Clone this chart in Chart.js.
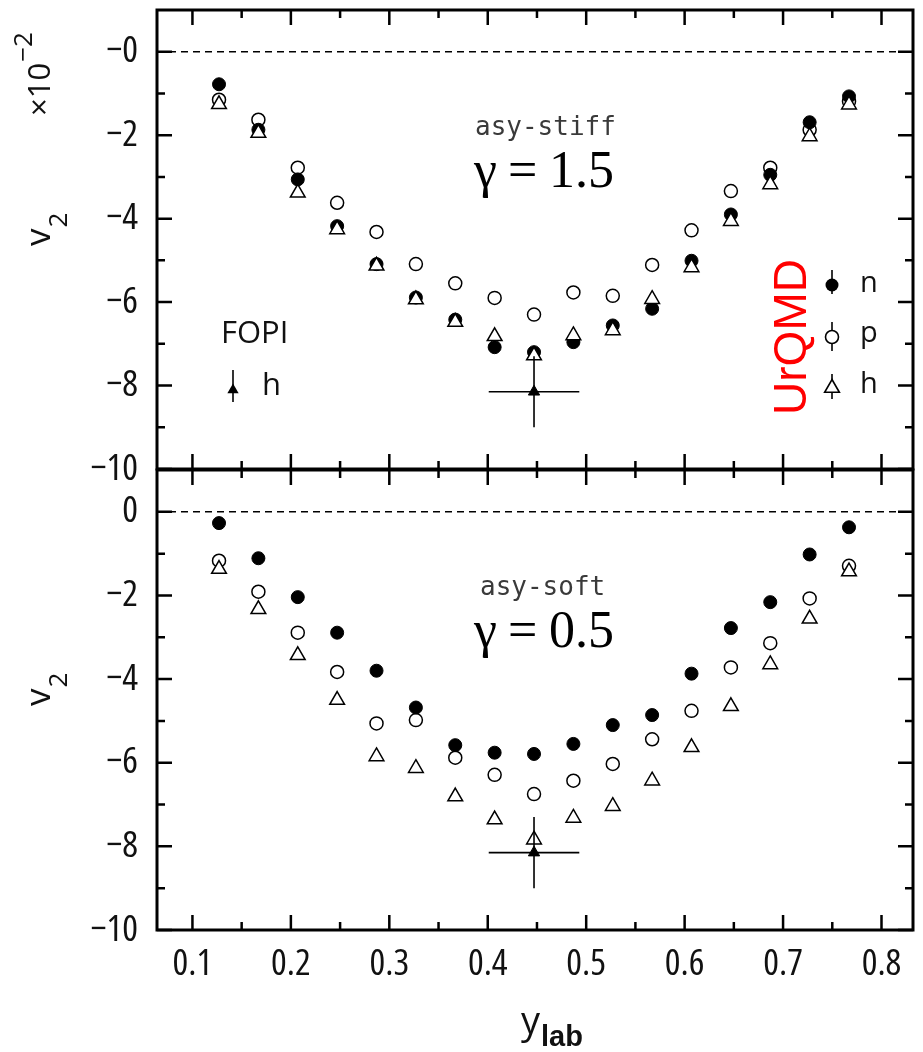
<!DOCTYPE html>
<html lang="en">
<head>
<meta charset="UTF-8">
<title>v2 vs ylab - UrQMD asy-stiff / asy-soft</title>
<script src="https://cdn.jsdelivr.net/npm/chart.js@4"></script>
<style>
  html, body { margin: 0; padding: 0; background: #fff; }
  #wrap { position: relative; width: 923px; height: 1052px; }
  canvas { position: absolute; left: 0; }
  #top { top: 0; }
  #bottom { top: 460px; }
</style>
</head>
<body>
<div id="wrap">
  <canvas id="top" width="923" height="492"></canvas>
  <canvas id="bottom" width="923" height="592"></canvas>
</div>
<script>
// rapidity bins (y_lab)
const yLab = [0.127, 0.167, 0.207, 0.247, 0.287, 0.327, 0.367, 0.407, 0.447,
              0.487, 0.527, 0.567, 0.607, 0.647, 0.687, 0.727, 0.767];

// asy-stiff, gamma = 1.5  (v2 in units of 1e-2)
const stiffN = [-0.78, -1.87, -3.06, -4.18, -5.09, -5.89, -6.42, -7.08, -7.20,
                -6.96, -6.56, -6.16, -5.01, -3.90, -2.95, -1.69, -1.07];
const stiffP = [-1.15, -1.63, -2.78, -3.62, -4.32, -5.09, -5.55, -5.90, -6.30,
                -5.77, -5.85, -5.11, -4.28, -3.34, -2.78, -1.87, -1.19];
const stiffH = [-1.26, -1.95, -3.38, -4.26, -5.13, -5.94, -6.48, -6.82, -7.28,
                -6.80, -6.68, -5.93, -5.17, -4.06, -3.18, -2.03, -1.27];

// asy-soft, gamma = 0.5
const softN = [-0.27, -1.11, -2.04, -2.89, -3.80, -4.68, -5.58, -5.76, -5.79,
               -5.55, -5.10, -4.86, -3.87, -2.78, -2.16, -1.02, -0.37];
const softP = [-1.17, -1.91, -2.89, -3.83, -5.06, -4.98, -5.88, -6.29, -6.75,
               -6.43, -6.03, -5.44, -4.76, -3.72, -3.14, -2.07, -1.29];
const softH = [-1.37, -2.33, -3.43, -4.50, -5.85, -6.13, -6.81, -7.36, -7.84,
               -7.32, -7.04, -6.43, -5.63, -4.65, -3.65, -2.56, -1.43];

// FOPI hydrogen measurement
const fopiX = [0.447];
const fopiY = [-8.15];
const fopiXErr = [0.046];
const fopiYErr = [0.85];

// axis ticks
const xMajor = [0.1, 0.2, 0.3, 0.4, 0.5, 0.6, 0.7, 0.8];
const xMinor = [0.15, 0.25, 0.35, 0.45, 0.55, 0.65, 0.75];
const yMajor = [0, -2, -4, -6, -8, -10];
const yMinor = [-1, -3, -5, -7, -9];

// Open Sans has a width axis, so stretch keywords pick narrower cuts
const SANS = "'Open Sans', 'Roboto Condensed', sans-serif";
const sans = (size, stretch) => (stretch ? stretch + ' ' : '') + size + 'px ' + SANS;
const SERIF = '"Liberation Serif", "DejaVu Serif", serif';
const INK = '#111';

const pts = ys => yLab.map((x, i) => ({ x: x, y: ys[i] }));

function triangle(ctx, x, y, r) {
  ctx.beginPath();
  ctx.moveTo(x, y - r);
  ctx.lineTo(x + r * Math.sin(2 * Math.PI / 3), y + r / 2);
  ctx.lineTo(x - r * Math.sin(2 * Math.PI / 3), y + r / 2);
  ctx.closePath();
}

function vbar(ctx, x, y1, y2) {
  ctx.beginPath();
  ctx.moveTo(x, y1);
  ctx.lineTo(x, y2);
  ctx.stroke();
}

// zero line, inner ticks on all four sides, box, labels
const framePlugin = {
  id: 'frame',
  beforeDatasetsDraw(chart) {
    const { ctx, chartArea: a, scales: { x, y } } = chart;
    ctx.save();
    ctx.strokeStyle = '#000';
    ctx.lineWidth = 1.4;
    ctx.setLineDash([7, 5]);
    const y0 = y.getPixelForValue(0);
    ctx.beginPath();
    ctx.moveTo(a.left, y0);
    ctx.lineTo(a.right, y0);
    ctx.stroke();
    ctx.setLineDash([]);

    ctx.lineWidth = 2.5;
    ctx.beginPath();
    const xt = (v, len) => {
      const px = x.getPixelForValue(v);
      ctx.moveTo(px, a.top); ctx.lineTo(px, a.top + len);
      ctx.moveTo(px, a.bottom); ctx.lineTo(px, a.bottom - len);
    };
    const yt = (v, len) => {
      const py = y.getPixelForValue(v);
      ctx.moveTo(a.left, py); ctx.lineTo(a.left + len, py);
      ctx.moveTo(a.right, py); ctx.lineTo(a.right - len, py);
    };
    xMajor.forEach(v => xt(v, 15));
    xMinor.forEach(v => xt(v, 8));
    yMajor.forEach(v => yt(v, 15));
    yMinor.forEach(v => yt(v, 8));
    ctx.stroke();
    ctx.restore();
  },
  afterDatasetsDraw(chart) {
    const { ctx, scales: { x, y } } = chart;
    ctx.save();
    ctx.strokeStyle = '#000';
    ctx.lineWidth = 1.6;
    chart.data.datasets.forEach(ds => {
      if (!ds.xErr) return;
      ds.data.forEach((p, i) => {
        const px = x.getPixelForValue(p.x), py = y.getPixelForValue(p.y);
        ctx.beginPath();
        ctx.moveTo(x.getPixelForValue(p.x - ds.xErr[i]), py);
        ctx.lineTo(x.getPixelForValue(p.x + ds.xErr[i]), py);
        ctx.moveTo(px, y.getPixelForValue(p.y + ds.yErr[i]));
        ctx.lineTo(px, y.getPixelForValue(p.y - ds.yErr[i]));
        ctx.stroke();
      });
    });
    ctx.restore();
  },
  afterDraw(chart, args, opts) {
    const { ctx, chartArea: a } = chart;
    ctx.save();
    ctx.strokeStyle = '#000';
    ctx.lineWidth = 3;
    ctx.strokeRect(a.left, a.top, a.right - a.left, a.bottom - a.top);

    // y axis title: v_2 (rotated)
    ctx.fillStyle = INK;
    ctx.textBaseline = 'alphabetic';
    ctx.textAlign = 'left';
    ctx.save();
    ctx.translate(50, 246);
    ctx.rotate(-Math.PI / 2);
    ctx.font = sans(35);
    ctx.fillText('v', 0, 0);
    const vw = ctx.measureText('v').width;
    ctx.font = sans(26);
    ctx.fillText('2', vw + 1, 17);
    ctx.restore();

    // panel labels
    ctx.fillStyle = '#3a3a3a';
    ctx.font = '26px "DejaVu Sans Mono", monospace';
    ctx.fillText(opts.model, opts.modelX, 135);
    ctx.fillStyle = '#000';
    ctx.font = '52px ' + SERIF;
    ctx.fillText('\u03b3', 474, 187);
    ctx.fillText('=', 508, 187);
    ctx.fillText(opts.gamma, 549, 187);

    if (opts.legends) {
      // scale factor
      ctx.fillStyle = INK;
      ctx.save();
      ctx.translate(50, 116);
      ctx.rotate(-Math.PI / 2);
      ctx.font = sans(31);
      ctx.fillText('\u00d710', 0, 0);
      const w = ctx.measureText('\u00d710').width;
      ctx.font = sans(26);
      ctx.fillText('\u22122', w + 1, -18);
      ctx.restore();

      // FOPI legend
      ctx.font = sans(31);
      ctx.textBaseline = 'middle';
      ctx.fillText('FOPI', 221, 334);
      ctx.fillText('h', 262, 386);
      ctx.lineWidth = 1.6;
      ctx.strokeStyle = '#000';
      vbar(ctx, 233, 370, 402);
      triangle(ctx, 233, 390, 6.5);
      ctx.fillStyle = '#000';
      ctx.fill();

      // UrQMD legend
      ctx.save();
      ctx.translate(806, 337);
      ctx.rotate(-Math.PI / 2);
      ctx.textAlign = 'center';
      ctx.textBaseline = 'alphabetic';
      ctx.fillStyle = '#ff0000';
      ctx.font = '46px "Liberation Sans", Arial, sans-serif';
      ctx.fillText('UrQMD', 0, 0);
      ctx.restore();

      const lx = 832;
      ctx.lineWidth = 1.6;
      vbar(ctx, lx, 270, 294);
      ctx.beginPath(); ctx.arc(lx, 285, 6.5, 0, 2 * Math.PI);
      ctx.fillStyle = '#000'; ctx.fill();
      vbar(ctx, lx, 322, 351);
      ctx.beginPath(); ctx.arc(lx, 337, 6.5, 0, 2 * Math.PI);
      ctx.fillStyle = '#fff'; ctx.fill(); ctx.stroke();
      vbar(ctx, lx, 374, 399);
      triangle(ctx, lx, 388, 8.5);
      ctx.fill(); ctx.stroke();

      ctx.fillStyle = INK;
      ctx.font = sans(29);
      ctx.textAlign = 'left';
      ctx.textBaseline = 'middle';
      ctx.fillText('n', 860, 284);
      ctx.fillText('p', 860, 334);
      ctx.fillText('h', 860, 385);
    }

    if (opts.xTitle) {
      ctx.fillStyle = INK;
      ctx.textAlign = 'left';
      ctx.textBaseline = 'alphabetic';
      ctx.font = sans(38);
      ctx.fillText('y', 521, 574);
      const yw = ctx.measureText('y').width;
      ctx.font = 'bold 29px "Liberation Sans", Arial, sans-serif';
      ctx.fillText('lab', 521 + yw + 1, 586);
    }
    ctx.restore();
  }
};

const tickFont = { family: SANS, size: 37, weight: 'semi-condensed' };

function panel(id, n, p, h, o) {
  return new Chart(document.getElementById(id), {
    type: 'scatter',
    data: {
      datasets: [
        { label: 'FOPI h', data: [{ x: fopiX[0], y: fopiY[0] }], xErr: fopiXErr, yErr: fopiYErr,
          pointStyle: 'triangle', pointRadius: 6.5, backgroundColor: '#000', borderColor: '#000', borderWidth: 1 },
        { label: 'h', data: pts(h), pointStyle: 'triangle', pointRadius: 8.5,
          backgroundColor: '#fff', borderColor: '#000', borderWidth: 1.5 },
        { label: 'p', data: pts(p), pointStyle: 'circle', pointRadius: 6.5,
          backgroundColor: 'rgba(0,0,0,0)', borderColor: '#000', borderWidth: 1.5 },
        { label: 'n', data: pts(n), pointStyle: 'circle', pointRadius: 6.5,
          backgroundColor: '#000', borderColor: '#000', borderWidth: 1 }
      ]
    },
    options: {
      responsive: false,
      animation: false,
      events: [],
      layout: { padding: o.padding },
      plugins: {
        legend: { display: false },
        tooltip: { enabled: false },
        frame: o
      },
      scales: {
        x: {
          type: 'linear', min: 0.064, max: 0.832,
          display: o.xTitle,
          afterBuildTicks: s => { s.ticks = xMajor.map(v => ({ value: v })); },
          afterFit: s => {
            if (o.xTitle) s.height = 122;
            s.paddingLeft = 0; s.paddingRight = 0;
          },
          grid: { display: false, drawTicks: false },
          border: { display: false },
          ticks: { font: tickFont, color: INK, padding: 12,
                   maxRotation: 0, autoSkip: false, callback: v => v.toFixed(1) }
        },
        y: {
          type: 'linear', min: -10, max: 1,
          afterBuildTicks: s => { s.ticks = yMajor.map(v => ({ value: v })); },
          afterFit: s => { s.width = 157; s.paddingTop = 0; s.paddingBottom = 0; },
          grid: { display: false, drawTicks: false },
          border: { display: false },
          ticks: { font: tickFont, color: INK, padding: 19,
                   callback: o.yFormat }
        }
      }
    },
    plugins: [framePlugin]
  });
}

panel('top', stiffN, stiffP, stiffH, {
  model: 'asy-stiff', modelX: 475, gamma: '1.5', legends: true, xTitle: false,
  padding: { top: 7, right: 2, bottom: 23, left: 0 },
  yFormat: v => '\u2212' + Math.abs(v)
});

panel('bottom', softN, softP, softH, {
  model: 'asy-soft', modelX: 480, gamma: '0.5', legends: false, xTitle: true,
  padding: { top: 9, right: 2, bottom: 0, left: 0 },
  yFormat: v => (v === 0 ? '0' : '\u2212' + Math.abs(v))
});
</script>
</body>
</html>
